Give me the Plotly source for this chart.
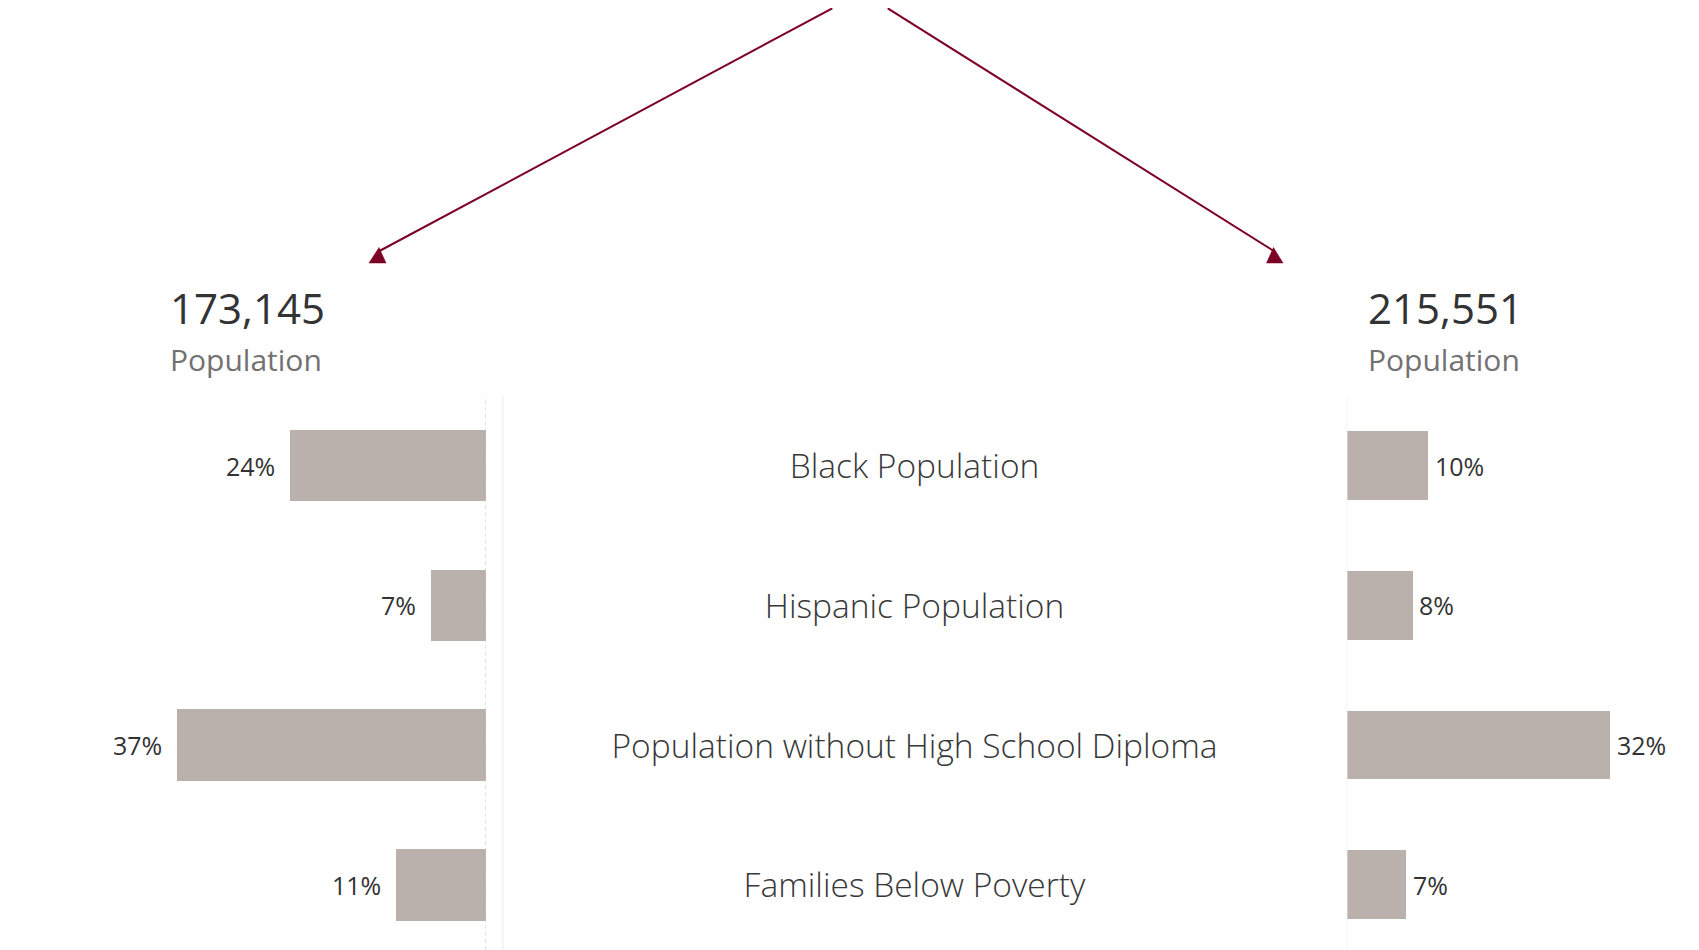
import plotly.graph_objects as go

# ---------------- data ----------------
categories = ["Black Population", "Hispanic Population",
              "Population without High School Diploma", "Families Below Poverty"]
left_values = [23.6, 6.6, 37.2, 10.8]      # % (left area)
right_values = [9.9, 8.0, 32.0, 7.2]       # % (right area)
left_total = 173145
right_total = 215551
total_label = "Population"

# ---------------- style ----------------
W, H = 1699, 950
OFF = 8  # page body margin
BAR = "#bab0ac"
DARK = "#333333"
GREY = "#727272"
ARROW = "#7d0025"
FONT = "Open Sans"


def px(x):
    return (x - OFF) / W


def py(y):
    return 1 - (y - OFF) / H


fig = go.Figure()

fig.add_trace(go.Bar(
    y=categories, x=left_values, orientation="h",
    marker=dict(color=BAR, line=dict(width=0)), width=0.512,
    xaxis="x", yaxis="y", hoverinfo="skip", showlegend=False,
))
fig.add_trace(go.Bar(
    y=categories, x=right_values, orientation="h",
    marker=dict(color=BAR, line=dict(width=0)), width=0.492,
    xaxis="x2", yaxis="y2", hoverinfo="skip", showlegend=False,
))
fig.add_trace(go.Scatter(
    y=categories, x=[0.5] * len(categories), mode="text",
    text=categories, textposition="middle center",
    textfont=dict(family=FONT, size=33.5, color="#383838", weight=300),
    xaxis="x3", yaxis="y3", hoverinfo="skip", showlegend=False,
))

annotations = []
for c, v in zip(categories, left_values):
    annotations.append(dict(
        x=v, y=c, xref="x", yref="y", text=f"{round(v)}%", showarrow=False,
        xanchor="right", yanchor="middle", xshift=-13,
        font=dict(family=FONT, size=25, color=DARK)))
for c, v in zip(categories, right_values):
    annotations.append(dict(
        x=v, y=c, xref="x2", yref="y2", text=f"{round(v)}%", showarrow=False,
        xanchor="left", yanchor="middle", xshift=5,
        font=dict(family=FONT, size=25, color=DARK)))

# headers
for xpos, tot in [(168, left_total), (1366, right_total)]:
    annotations.append(dict(
        x=px(xpos), y=py(307), xref="paper", yref="paper", text=f"{tot:,}",
        showarrow=False, xanchor="left", yanchor="middle",
        font=dict(family=FONT, size=42, color=DARK)))
    annotations.append(dict(
        x=px(xpos), y=py(359), xref="paper", yref="paper", text=total_label,
        showarrow=False, xanchor="left", yanchor="middle",
        font=dict(family=FONT, size=30, color=GREY)))

shapes = []
# dashed baseline of the left bars
shapes.append(dict(type="line", xref="x", yref="y domain", x0=0, x1=0, y0=0, y1=1,
                   line=dict(color="#c4c4c4", width=1, dash="4px,3px")))
# faint lines
shapes.append(dict(type="line", xref="x3 domain", yref="y domain", x0=0, x1=0, y0=0, y1=1,
                   line=dict(color="#f0f0f0", width=1.5)))
shapes.append(dict(type="line", xref="x2", yref="y2 domain", x0=0, x1=0, y0=0, y1=1,
                   line=dict(color="#f0f0f0", width=1.5)))

# arrows (decorative)
arrows = [((832.3, 8.3), (378.5, 251.5), [(369, 263), (379, 247.5), (386, 263)]),
          ((887.7, 8.3), (1274.5, 251.5), [(1266.5, 263), (1273.5, 247.5), (1283, 263)])]
for (sx, sy), (ex, ey), tri in arrows:
    shapes.append(dict(type="line", xref="paper", yref="paper",
                       x0=px(sx), y0=py(sy), x1=px(ex), y1=py(ey),
                       line=dict(color=ARROW, width=2)))
    path = "M {} {} L {} {} L {} {} Z".format(*[v for p in tri for v in (px(p[0]), py(p[1]))])
    shapes.append(dict(type="path", xref="paper", yref="paper", path=path,
                       fillcolor=ARROW, line=dict(color=ARROW, width=0.5)))

ydom = [py(950), py(396)]
yrange = [3.467, -0.498]
yrange_text = [3.436, -0.529]

fig.update_layout(
    width=W, height=H,
    margin=dict(l=0, r=0, t=0, b=0),
    paper_bgcolor="white", plot_bgcolor="rgba(0,0,0,0)",
    bargap=0,
    xaxis=dict(domain=[0, px(486)], range=[(486 - OFF) / 8.3, 0], visible=False),
    yaxis=dict(domain=ydom, range=yrange, visible=False, type="category",
               categoryorder="array", categoryarray=categories),
    xaxis2=dict(domain=[px(1346.7), 1], range=[0, (W + OFF - 1346.7) / 8.22], visible=False),
    yaxis2=dict(domain=ydom, range=yrange, visible=False, type="category",
                categoryorder="array", categoryarray=categories, anchor="x2"),
    xaxis3=dict(domain=[px(502.7), px(1326.3)], range=[0, 1], visible=False),
    yaxis3=dict(domain=ydom, range=yrange_text, visible=False, type="category",
                categoryorder="array", categoryarray=categories, anchor="x3"),
    annotations=annotations,
    shapes=shapes,
)

fig.write_html("out.html")
